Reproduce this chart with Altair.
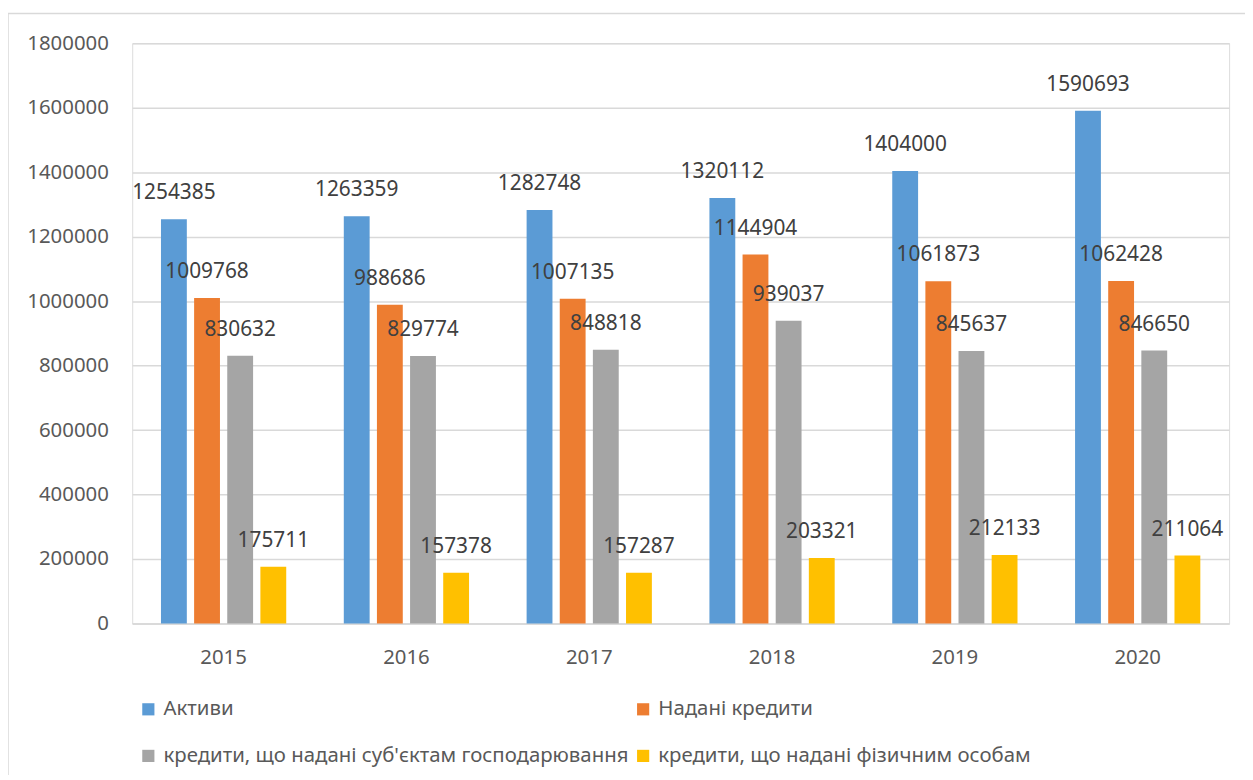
import altair as alt
import pandas as pd

years = ["2015", "2016", "2017", "2018", "2019", "2020"]
series = [
    "Активи",
    "Надані кредити",
    "кредити, що надані суб'єктам господарювання",
    "кредити, що надані фізичним особам",
]
assets = [1254385, 1263359, 1282748, 1320112, 1404000, 1590693]
loans = [1009768, 988686, 1007135, 1144904, 1061873, 1062428]
business = [830632, 829774, 848818, 939037, 845637, 846650]
individuals = [175711, 157378, 157287, 203321, 212133, 211064]
colors = ["#5B9BD5", "#ED7D31", "#A5A5A5", "#FFC000"]
y_ticks = list(range(0, 1800001, 200000))

rows = []
for name, vals in zip(series, [assets, loans, business, individuals]):
    for yr, v in zip(years, vals):
        rows.append({"year": yr, "series": name, "value": v})
df = pd.DataFrame(rows)

FONT = "Noto Sans"

base = alt.Chart(df).encode(
    x=alt.X("year:N", sort=years, title=None,
            scale=alt.Scale(paddingInner=0.275, paddingOuter=0.1375),
            axis=alt.Axis(labelAngle=0, ticks=False, domain=True, domainColor="#D9D9D9",
                          domainWidth=1.5, labelPadding=24, labelFontSize=20.5,
                          labelColor="#595959", labelFont=FONT)),
    xOffset=alt.XOffset("series:N", sort=series,
                        scale=alt.Scale(paddingInner=0.22, paddingOuter=0.11)),
)

bars = base.mark_bar().encode(
    y=alt.Y("value:Q", title=None,
            scale=alt.Scale(domain=[0, 1800000], nice=False),
            axis=alt.Axis(values=y_ticks, format="d", ticks=False, domain=False,
                          gridColor="#D9D9D9", gridWidth=1.5, labelPadding=24,
                          labelFontSize=20.5, labelColor="#595959", labelFont=FONT)),
    color=alt.Color("series:N", sort=series,
                    scale=alt.Scale(domain=series, range=colors),
                    legend=alt.Legend(title=None, orient="none", legendX=6, legendY=660,
                                      direction="horizontal",
                                      columns=2, symbolType="square", symbolSize=150,
                                      symbolStrokeWidth=0, labelFontSize=20.5,
                                      labelFont=FONT, labelColor="#595959",
                                      labelLimit=800, labelOffset=5, rowPadding=26,
                                      columnPadding=4, padding=0)),
)

labels = base.mark_text(fontSize=21, font=FONT, color="#404040", dy=-26,
                        baseline="middle").encode(
    y=alt.Y("value:Q"),
    text=alt.Text("value:Q", format="d"),
)

frame = alt.Chart(alt.Data(values=[{}])).mark_rect(
    fill="transparent", stroke="#D9D9D9", strokeWidth=1.5
).encode(
    x=alt.value(-125), x2=alt.value(1200), y=alt.value(-30), y2=alt.value(800)
)

chart = alt.layer(frame, bars, labels).properties(
    width=1104, height=584,
    autosize=alt.AutoSizeParams(type="none"),
    padding={"left": 125, "top": 33, "right": 16, "bottom": 150},
).configure_view(stroke=None).configure(font=FONT)

chart.save("out.html", embed_options={"renderer": "svg", "actions": False})
